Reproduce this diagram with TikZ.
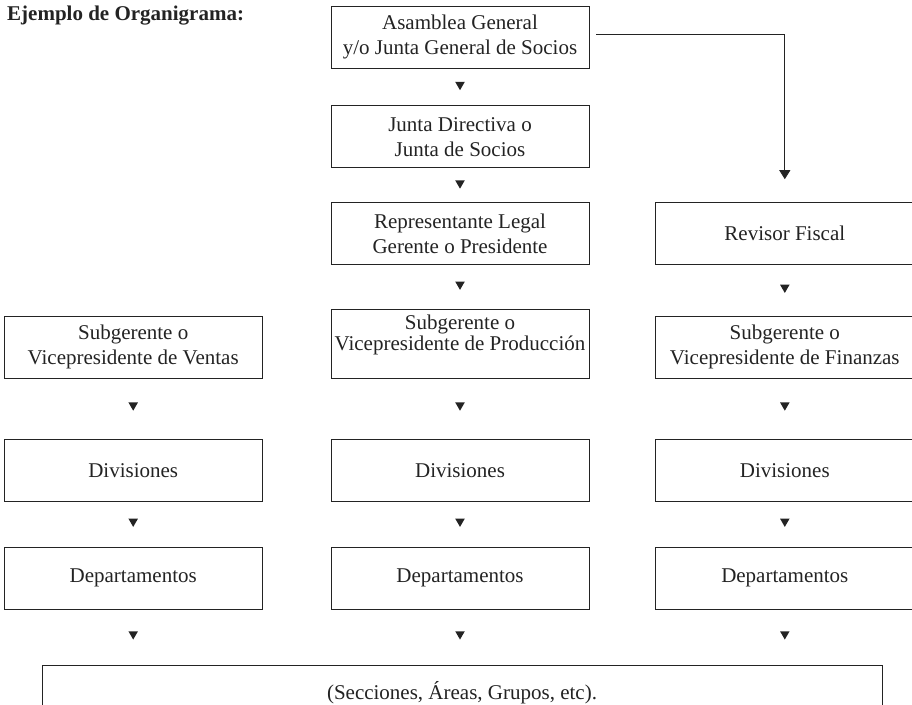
\documentclass[tikz,border=0pt]{standalone}
\usepackage{fontspec}
\setmainfont{Liberation Serif}
\usetikzlibrary{arrows.meta}
\usetikzlibrary{shapes.geometric, positioning}
\definecolor{trazo}{RGB}{35, 35, 35}

\begin{document}
\begin{tikzpicture}[
        node distance=37pt and 67pt,
        caja/.style={draw=trazo, line width=0.8pt, minimum width=258pt, minimum height=62pt, inner sep=0pt, align=center, text=trazo, font=\fontsize{21}{25}\selectfont},
        flecha/.style={regular polygon, regular polygon sides=3, shape border rotate=180, fill=trazo, inner sep=0pt, minimum size=11pt, pos=0.44},
        conector/.style={draw=trazo, line width=0.8pt, -{Triangle[width=11pt, length=9pt]}}
    ]
        \useasboundingbox (0,0) rectangle (912pt,-704pt);

        % --- TITULO ---
        \node[anchor=west, inner sep=0pt, text=trazo, font=\fontsize{21}{25}\selectfont\bfseries] (titulo) at (7pt,-16pt) {Ejemplo de Organigrama:};

        % --- COLUMNA CENTRAL ---
        \node[caja] (asamblea) at (460pt,-37pt) {Asamblea General\\y/o Junta General de Socios};
        \node[caja, below=37pt of asamblea] (junta) {Junta Directiva o\\Junta de Socios};
        \node[caja, below=34pt of junta] (gerente) {Representante Legal\\Gerente o Presidente};
        \node[caja, minimum height=69pt, below=44pt of gerente] (produccion) {};
        % el texto va pegado arriba en esta caja
        \node[below=6pt of produccion.north, inner sep=0pt, align=center, text=trazo, font=\fontsize{21}{21}\selectfont] (produccionTxt) {Subgerente o\\Vicepresidente de Producción};

        % --- COLUMNAS LATERALES ---
        \node[caja, left=68pt of produccion.south west, anchor=south east] (ventas) {Subgerente o\\Vicepresidente de Ventas};
        \node[caja, right=66pt of gerente] (revisor) {Revisor Fiscal};
        \node[caja, below=51pt of revisor] (finanzas) {Subgerente o\\Vicepresidente de Finanzas};

        % --- DIVISIONES Y DEPARTAMENTOS ---
        \node[caja, below=60pt of ventas] (div1) {Divisiones};
        \node[caja, below=60pt of produccion] (div2) {Divisiones};
        \node[caja, below=60pt of finanzas] (div3) {Divisiones};
        \node[caja, below=45pt of div1] (dep1) {Departamentos};
        \node[caja, below=45pt of div2] (dep2) {Departamentos};
        \node[caja, below=45pt of div3] (dep3) {Departamentos};
        \node[caja, minimum width=840pt, minimum height=54pt, below=56pt of dep2, xshift=2pt] (secciones) {(Secciones, Áreas, Grupos, etc).};

        % Triangulos entre cajas
        \path (asamblea) -- node[flecha] {} (junta);
        \path (junta) -- node[flecha] {} (gerente);
        \path (gerente) -- node[flecha] {} (produccion);
        \path (revisor) -- node[flecha] {} (finanzas);
        \foreach \a/\b in {ventas/div1, produccion/div2, finanzas/div3, div1/dep1, div2/dep2, div3/dep3}
            \path (\a) -- node[flecha] {} (\b);
        \foreach \d in {dep1, dep2, dep3}
            \path (\d) -- node[flecha] {} (\d |- secciones.north);

        % Asamblea -> Revisor Fiscal
        \draw[conector, shorten <=7pt, shorten >=23pt] ([yshift=3pt]asamblea.east) -| (revisor.north);
    \end{tikzpicture}
\end{document}
